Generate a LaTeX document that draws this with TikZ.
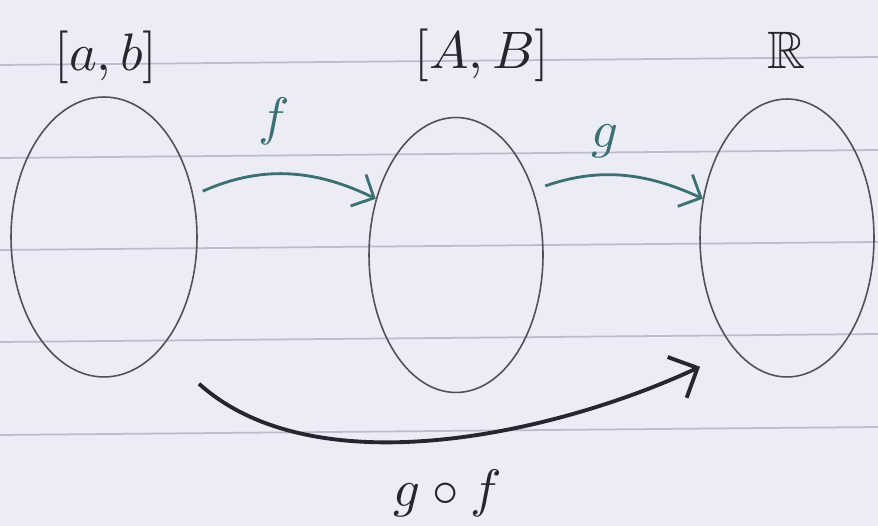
\documentclass[tikz,border=0pt]{standalone}
\usepackage{amssymb}
\usetikzlibrary{arrows.meta,shapes.geometric}

\definecolor{paper}{RGB}{236,236,246}
\definecolor{ruling}{RGB}{188,188,204}
\definecolor{pencil}{RGB}{80,80,90}
\definecolor{tealink}{RGB}{58,112,114}
\definecolor{darkink}{RGB}{38,38,48}

\begin{document}
\begin{tikzpicture}[x=0.02cm, y=0.02cm,
    set/.style={ellipse, draw=pencil, line width=0.9pt, inner sep=0pt},
    lbl/.style={scale=3, inner sep=0pt, text=darkink},
    maparrow/.style={-{Straight Barb[length=3.5mm, width=7mm]}, draw=tealink, line width=1.6pt},
    gofarrow/.style={-{Straight Barb[length=4.5mm, width=9mm]}, draw=darkink, line width=2.2pt}]
    \useasboundingbox (0,0) rectangle (878,526);
    % lined paper
    \fill[paper] (0,0) rectangle (878,526);
    \foreach \y in {91,184,276,368,461}
      \draw[ruling, line width=1pt] (0,\y) -- (878,\y+8);
    % the three sets
    \node[set, minimum width=3.72cm, minimum height=5.6cm] (ab) at (104,289) {};
    \node[set, minimum width=3.48cm, minimum height=5.5cm] (AB) at (456,271) {};
    \node[set, minimum width=3.48cm, minimum height=5.56cm] (R) at (787,288) {};
    \node[lbl] (abname) at (106,469) {$[a,b]$};
    \node[lbl] (ABname) at (482,471) {$[A,B]$};
    \node[lbl] (Rname) at (787,476) {$\mathbb{R}$};
    % f and g
    \draw[maparrow, shorten <=0.2cm] (ab.25) to[bend left=25] (AB.145);
    \node[lbl, text=tealink] (fname) at (274,405) {$f$};
    \draw[maparrow, shorten <=0.25cm] (AB.40) to[bend left=22] (R.155);
    \node[lbl, text=tealink] (gname) at (605,385) {$g$};
    % composite
    \coordinate (gofstart) at ([shift={(95,-6)}]ab.south);
    \coordinate (gofend) at ([shift={(-87,11)}]R.south);
    \draw[gofarrow] (gofstart) to[out=-42, in=205, looseness=0.8] (gofend);
    \node[lbl] (gofname) at (448,33) {$g\circ f$};
\end{tikzpicture}
\end{document}
